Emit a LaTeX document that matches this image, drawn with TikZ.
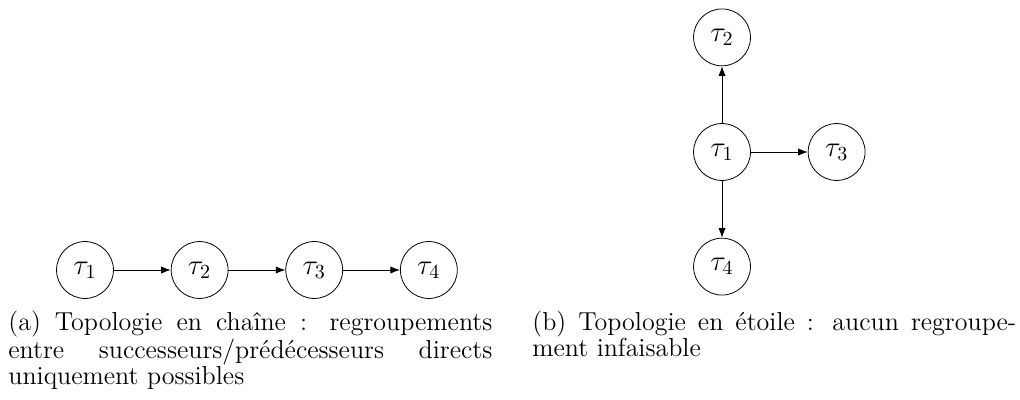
\documentclass[tikz,border=0pt]{standalone}
\usetikzlibrary{positioning,arrows.meta}
\begin{document}
\begin{tikzpicture}[
  task/.style={circle,draw,minimum size=1cm,inner sep=0pt,font=\Large},
  edge/.style={-{Latex}},
  captext/.style={anchor=north west,inner sep=0pt,text width=242pt,align=justify,font=\fontsize{13}{12.6}\selectfont},
  node distance=1cm
]
\useasboundingbox (0,0) rectangle (510pt,-200pt);
% (a) chain
\node[task] (a1) at (42.5pt,-135pt) {$\tau_1$};
\node[task,right=of a1] (a2) {$\tau_2$};
\node[task,right=of a2] (a3) {$\tau_3$};
\node[task,right=of a3] (a4) {$\tau_4$};
\draw[edge] (a1) -- (a2);
\draw[edge] (a2) -- (a3);
\draw[edge] (a3) -- (a4);
% (b) star
\node[task] (b1) at (361pt,-76pt) {$\tau_1$};
\node[task,above=of b1] (b2) {$\tau_2$};
\node[task,right=of b1] (b3) {$\tau_3$};
\node[task,below=of b1] (b4) {$\tau_4$};
\draw[edge] (b1) -- (b2);
\draw[edge] (b1) -- (b3);
\draw[edge] (b1) -- (b4);
% captions
\node[captext] (capa) at (4pt,-155.5pt) {(a) Topologie en chaîne~: regroupements\linebreak entre successeurs/prédécesseurs directs\linebreak uniquement possibles};
\node[captext] (capb) at (266pt,-155.5pt) {(b) Topologie en étoile~: aucun regroupe-\linebreak ment infaisable};
\end{tikzpicture}
\end{document}
